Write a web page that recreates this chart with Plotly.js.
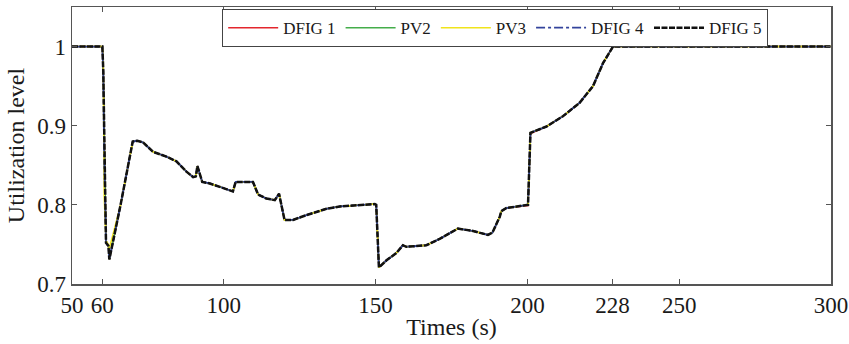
<!DOCTYPE html>
<html>
<head>
<meta charset="utf-8">
<script src="https://cdn.plot.ly/plotly-3.0.1.min.js"></script>
<style>html,body{margin:0;padding:0;background:#fff;}#chart{width:849px;height:344px;}</style>
</head>
<body>
<div id="chart"></div>
<script>
// Time stamps (s)
const times = [50, 60, 60.3, 60.6, 61.2, 62.0, 62.3, 66, 70, 71.5, 73.4, 76.7, 81.1, 84.4, 87.7, 89.9, 90.8, 91.3, 92.9, 95.4, 98.6, 103, 103.9, 109.6, 111.3, 114, 116.8, 118.2, 120, 122.8, 127.2, 133.8, 138.2, 142.6, 149.7, 150.2, 151.1, 153.6, 156.8, 159, 160.1, 166.7, 171.1, 177.1, 182.1, 187, 188.5, 190.9, 191.4, 193.1, 200.2, 201.0, 206.3, 211.7, 217.2, 221.6, 224.9, 228.2, 300];

// Utilization level of each unit
const dfig5 = [1, 1, 0.97, 0.90, 0.752, 0.748, 0.731, 0.80, 0.880, 0.881, 0.879, 0.867, 0.861, 0.855, 0.842, 0.835, 0.836, 0.849, 0.829, 0.827, 0.823, 0.817, 0.829, 0.829, 0.813, 0.808, 0.806, 0.814, 0.781, 0.781, 0.787, 0.795, 0.798, 0.799, 0.801, 0.800, 0.721, 0.730, 0.739, 0.749, 0.747, 0.749, 0.757, 0.770, 0.767, 0.762, 0.765, 0.785, 0.792, 0.796, 0.800, 0.891, 0.899, 0.912, 0.929, 0.950, 0.979, 1.0, 1.0];
const dfig4 = [1, 1, 0.97, 0.86, 0.752, 0.748, 0.731, 0.80, 0.880, 0.881, 0.879, 0.867, 0.861, 0.855, 0.842, 0.835, 0.836, 0.849, 0.829, 0.827, 0.823, 0.817, 0.829, 0.829, 0.813, 0.808, 0.806, 0.814, 0.781, 0.781, 0.787, 0.795, 0.798, 0.799, 0.801, 0.800, 0.721, 0.730, 0.739, 0.749, 0.747, 0.749, 0.757, 0.770, 0.767, 0.762, 0.765, 0.785, 0.792, 0.796, 0.800, 0.891, 0.899, 0.912, 0.929, 0.950, 0.979, 1.0, 1.0];
const pv3 = [1, 1, 0.985, 0.81, 0.755, 0.750, 0.745, 0.80, 0.880, 0.881, 0.879, 0.867, 0.861, 0.855, 0.842, 0.835, 0.836, 0.849, 0.829, 0.827, 0.823, 0.817, 0.829, 0.829, 0.813, 0.808, 0.806, 0.814, 0.781, 0.781, 0.787, 0.795, 0.798, 0.799, 0.801, 0.800, 0.721, 0.730, 0.739, 0.749, 0.747, 0.749, 0.757, 0.770, 0.767, 0.762, 0.765, 0.785, 0.792, 0.796, 0.800, 0.891, 0.899, 0.912, 0.929, 0.950, 0.979, 1.0, 1.0];
const pv2 = [1, 1, 0.97, 0.90, 0.752, 0.748, 0.731, 0.80, 0.880, 0.881, 0.879, 0.867, 0.861, 0.855, 0.842, 0.835, 0.836, 0.849, 0.829, 0.827, 0.823, 0.817, 0.829, 0.829, 0.813, 0.808, 0.806, 0.814, 0.781, 0.781, 0.787, 0.795, 0.798, 0.799, 0.801, 0.800, 0.721, 0.730, 0.739, 0.749, 0.747, 0.749, 0.757, 0.770, 0.767, 0.762, 0.765, 0.785, 0.792, 0.796, 0.800, 0.891, 0.899, 0.912, 0.929, 0.950, 0.979, 1.0, 1.0];
const dfig1 = [1, 1, 0.97, 0.90, 0.752, 0.748, 0.731, 0.80, 0.880, 0.881, 0.879, 0.867, 0.861, 0.855, 0.842, 0.835, 0.836, 0.849, 0.829, 0.827, 0.823, 0.817, 0.829, 0.829, 0.813, 0.808, 0.806, 0.814, 0.781, 0.781, 0.787, 0.795, 0.798, 0.799, 0.801, 0.800, 0.721, 0.730, 0.739, 0.749, 0.747, 0.749, 0.757, 0.770, 0.767, 0.762, 0.765, 0.785, 0.792, 0.796, 0.799, 0.890, 0.899, 0.912, 0.929, 0.950, 0.979, 1.0, 1.0];

const seriesNames = ["DFIG 1", "PV2", "PV3", "DFIG 4", "DFIG 5"];

// Tick labels
const xTickVals = [50, 60, 100, 150, 200, 228, 250, 300];
const xTickText = ["50", "60", "100", "150", "200", "228", "250", "300"];
const yTickVals = [0.7, 0.8, 0.9, 1];
const yTickText = ["0.7", "0.8", "0.9", "1"];

const serif = "Liberation Serif, Times New Roman, serif";

const styles = [
  {color: "#e3262d", width: 1.5, dash: "solid"},
  {color: "#44ad4a", width: 1.5, dash: "solid"},
  {color: "#f0e41c", width: 1.5, dash: "solid"},
  {color: "#33439c", width: 1.8, dash: "dashdot"},
  {color: "#111111", width: 2.5, dash: "6px,1.5px"}
];
const values = [dfig1, pv2, pv3, dfig4, dfig5];

const traces = values.map((v, i) => ({
  type: "scatter",
  mode: "lines",
  name: seriesNames[i],
  x: times,
  y: v,
  line: styles[i]
}));

const axisCommon = {
  showgrid: false,
  zeroline: false,
  showline: true,
  linecolor: "#555",
  linewidth: 1.5,
  mirror: "ticks",
  ticks: "inside",
  ticklen: 5,
  tickwidth: 1,
  tickcolor: "#555",
  tickfont: {family: serif, size: 23, color: "#1a1a1a"}
};

const layout = {
  width: 849,
  height: 344,
  margin: {l: 72, r: 18, t: 7, b: 60},
  paper_bgcolor: "#fff",
  plot_bgcolor: "#fff",
  showlegend: true,
  xaxis: Object.assign({}, axisCommon, {
    range: [50, 300],
    tickmode: "array",
    tickvals: xTickVals,
    ticktext: xTickText,
    title: {text: "Times (s)", font: {family: serif, size: 24, color: "#1a1a1a"}, standoff: 1}
  }),
  yaxis: Object.assign({}, axisCommon, {
    range: [0.7, 1.05],
    tickmode: "array",
    tickvals: yTickVals,
    ticktext: yTickText,
    title: {text: "Utilization level", font: {family: serif, size: 24, color: "#1a1a1a"}, standoff: 6}
  }),
  legend: {
    orientation: "h",
    x: 0.1976,
    y: 0.993,
    xanchor: "left",
    yanchor: "top",
    bgcolor: "#fff",
    bordercolor: "#444",
    borderwidth: 1.2,
    font: {family: serif, size: 17, color: "#1a1a1a"},
    itemwidth: 50
  }
};

Plotly.newPlot("chart", traces, layout, {displayModeBar: false, staticPlot: true});
</script>
</body>
</html>
